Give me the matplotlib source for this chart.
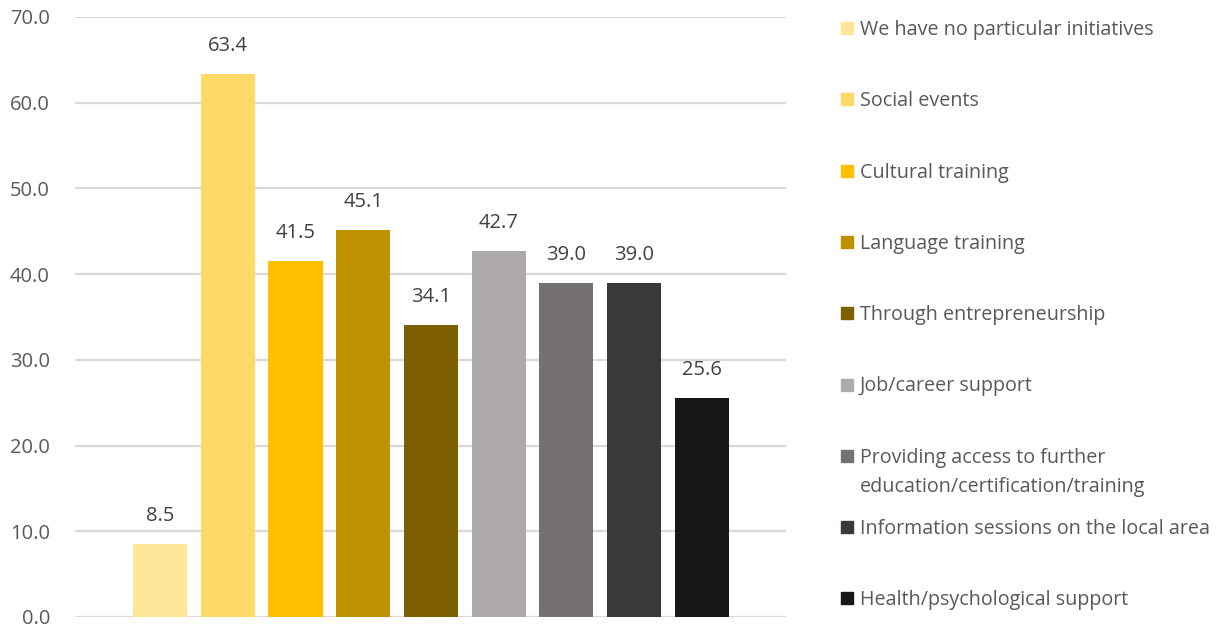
import matplotlib.pyplot as plt
from matplotlib.patches import Rectangle
import numpy as np

plt.rcParams.update({'font.family': ['Open Sans', 'DejaVu Sans']})

# share of respondents per initiative type (%)
labels = ["We have no particular initiatives",
          "Social events",
          "Cultural training",
          "Language training",
          "Through entrepreneurship",
          "Job/career support",
          "Providing access to further\neducation/certification/training",
          "Information sessions on the local area",
          "Health/psychological support"]
values = [8.5, 63.4, 41.5, 45.1, 34.1, 42.7, 39.0, 39.0, 25.6]
colors = ['#FFE699', '#FFD966', '#FFC000', '#BF9000', '#7F6000',
          '#AEAAAA', '#767171', '#3A3838', '#171717']
yticks = np.arange(0, 71, 10)

textcol = '#595959'
W, H = 1221, 627

fig = plt.figure(figsize=(W/100, H/100), dpi=100)
ax = fig.add_axes([75/W, 1-617/H, (786-75)/W, 600/H])

x = np.arange(len(values))
ax.bar(x, values, width=0.8, color=colors, zorder=3)
for xi, v in zip(x, values):
    ax.annotate(f"{v:.1f}", (xi, v), xytext=(0, 13), textcoords='offset points',
                ha='center', va='bottom', fontsize=14.5, color='#404040')

ax.set_ylim(0, 70)
ax.set_xlim(-1.257, 9.245)
ax.set_yticks(yticks)
ax.set_yticklabels([f"{t:.1f}" for t in yticks])
ax.tick_params(axis='y', length=0, pad=18, labelsize=14.5, labelcolor=textcol)
ax.set_xticks([])
ax.yaxis.grid(True, color='#D9D9D9', linewidth=1.6, zorder=0)
for s in ax.spines.values():
    s.set_visible(False)

# legend column on the right, one entry every ~71 px
for i, (lab, c) in enumerate(zip(labels, colors)):
    yc = 28 + 71.3 * i
    fig.patches.append(Rectangle((841/W, 1-(yc+6)/H), 12/W, 12/H,
                                 transform=fig.transFigure, color=c))
    fig.text(860/W, 1-(yc-8)/H, lab, ha='left', va='top', fontsize=14.2,
             color=textcol, linespacing=1.6)

fig.savefig("out.png", dpi=100)
